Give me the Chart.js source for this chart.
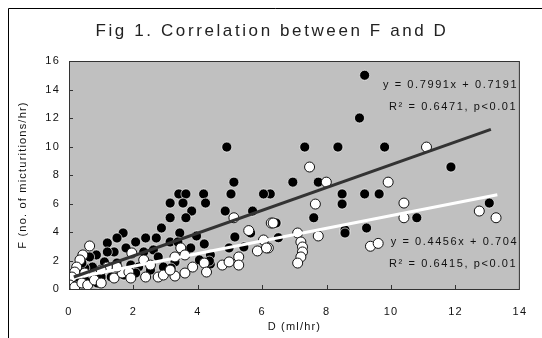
<!DOCTYPE html>
<html>
<head>
<meta charset="utf-8">
<script src="https://cdn.jsdelivr.net/npm/chart.js@4.4.1/dist/chart.umd.min.js"></script>
<style>
  html, body { margin: 0; padding: 0; background: #fff; }
  #wrap { width: 542px; height: 338px; }
</style>
</head>
<body>
<div id="wrap"><canvas id="chart" width="542" height="338"></canvas></div>
<script>
// [D, F]
const filledPts = [
  [9.18, 15.0], [9.02, 12.0], [7.32, 9.96], [8.35, 9.96], [9.8, 9.96], [11.86, 8.56],
  [6.95, 7.5], [7.74, 7.5], [6.25, 6.67], [8.48, 6.67], [8.48, 5.96], [9.18, 6.67],
  [9.63, 6.67], [6.43, 4.63], [7.6, 5.0], [6.5, 3.6], [8.57, 4.14], [8.57, 3.93],
  [9.24, 4.28], [10.8, 5.0], [13.05, 6.03],
  [4.9, 9.96], [5.12, 7.5], [3.41, 6.67], [3.63, 6.67], [4.18, 6.67], [5.03, 6.67],
  [6.04, 6.67], [3.14, 6.03], [3.54, 6.03], [4.24, 6.03], [3.81, 5.47], [4.85, 5.47],
  [5.7, 5.47], [3.14, 5.0], [3.63, 5.0], [3.44, 3.93], [5.15, 3.65], [5.64, 3.93],
  [3.96, 3.72], [3.14, 3.3], [3.38, 3.3], [4.2, 3.16], [3.78, 2.88], [4.97, 2.88],
  [5.43, 2.95], [4.39, 2.39], [4.05, 2.04], [4.39, 1.75], [4.36, 1.96], [3.29, 1.9], [3.17, 1.47],
  [1.68, 3.93], [1.49, 3.58], [1.19, 3.23], [2.38, 3.58], [2.87, 4.28], [2.71, 3.58],
  [2.07, 3.3], [1.77, 2.88], [1.4, 2.6], [1.19, 2.6], [0.85, 2.39], [0.64, 2.25],
  [2.32, 2.6], [2.62, 2.74], [2.77, 2.25], [1.1, 1.9], [1.49, 1.82], [1.92, 1.68],
  [2.16, 1.54], [2.93, 1.54], [2.53, 1.33], [2.07, 1.12], [1.0, 0.84], [1.31, 0.84],
  [1.71, 0.98], [0.73, 1.54], [0.49, 1.47], [0.4, 1.82], [0.27, 0.84], [0.12, 0.28],
  [0.49, 0.63], [0.88, 0.42]
];

const openPts = [
  [7.47, 8.56], [7.99, 7.5], [9.91, 7.5], [11.1, 9.96], [7.65, 5.96], [6.28, 4.63],
  [7.1, 3.93], [7.2, 3.3], [7.25, 2.95], [7.25, 2.6], [7.2, 2.25], [7.1, 1.82],
  [7.74, 3.72], [6.19, 2.88], [9.36, 3.0], [9.6, 3.2], [10.4, 6.03], [10.4, 5.0],
  [12.74, 5.47], [13.26, 5.0],
  [5.12, 5.0], [6.34, 4.63], [6.04, 3.44], [5.58, 4.1], [5.85, 2.67], [6.13, 2.88],
  [3.47, 2.88], [3.29, 2.25], [3.6, 2.39], [3.84, 1.54], [3.6, 1.12], [3.29, 0.91],
  [4.2, 1.82], [4.27, 1.19], [4.76, 1.68], [4.97, 1.9], [5.27, 2.25], [5.27, 1.68],
  [0.64, 3.02], [0.43, 2.39], [0.34, 2.04], [0.24, 1.54], [0.18, 1.19], [0.09, 0.84],
  [0.03, 0.28], [0.18, 0.14], [0.4, 0.42], [0.58, 0.28], [0.79, 0.63], [1.0, 0.42],
  [1.4, 0.77], [1.65, 1.12], [1.86, 1.19], [1.49, 1.54], [1.19, 1.54], [1.95, 2.53],
  [2.32, 2.04], [2.53, 1.68], [2.77, 0.84], [2.38, 0.84], [2.93, 0.98], [3.14, 1.33],
  [1.92, 0.77], [1.0, 1.33], [0.49, 1.12]
];

// trendline end points as seen in the figure
const filledTrend = [[0.15, 0.84], [13.1, 11.2]];
const openTrend = [[0.1, 0.75], [13.3, 6.62]];

const xTicks = [0, 2, 4, 6, 8, 10, 12, 14];
const yTicks = [0, 2, 4, 6, 8, 10, 12, 14, 16];

const filledLabel = ["y = 0.7991x + 0.7191", "R\u00B2 = 0.6471, p<0.01"];
const openLabel = ["y = 0.4456x + 0.704", "R\u00B2 = 0.6415, p<0.01"];

const toXY = (arr) => arr.map((p) => ({ x: p[0], y: p[1] }));
const FONT = "'Liberation Sans', Arial, sans-serif";

// grey plot area, frame, inward ticks, title and equations
const decor = {
  id: "decor",
  beforeDraw(chart) {
    const { ctx, chartArea: a } = chart;
    ctx.save();
    ctx.fillStyle = "#c0c0c0";
    ctx.fillRect(a.left, a.top, a.right - a.left, a.bottom - a.top);
    // outer frame (left + top visible)
    ctx.strokeStyle = "#000";
    ctx.lineWidth = 1;
    ctx.beginPath();
    ctx.moveTo(8.5, 345);
    ctx.lineTo(8.5, 8.5);
    ctx.lineTo(545, 8.5);
    ctx.stroke();
    // title
    ctx.fillStyle = "#222";
    ctx.font = "17px " + FONT;
    ctx.letterSpacing = "2.6px";
    ctx.textAlign = "center";
    ctx.textBaseline = "middle";
    ctx.fillText("Fig 1. Correlation between F and D", 272, 31);
    ctx.restore();
    // wide spacing for axis text, like the original
    ctx.letterSpacing = "1.2px";
  },
  afterDatasetsDraw(chart) {
    const { ctx, chartArea: a, scales } = chart;
    ctx.save();
    ctx.strokeStyle = "#333";
    ctx.lineWidth = 1;
    ctx.strokeRect(a.left + 0.5, a.top + 0.5, a.right - a.left - 1, a.bottom - a.top);
    ctx.beginPath();
    xTicks.slice(1, -1).forEach((v) => {
      const px = Math.round(scales.x.getPixelForValue(v)) + 0.5;
      ctx.moveTo(px, a.bottom);
      ctx.lineTo(px, a.bottom - 4);
    });
    yTicks.slice(1, -1).forEach((v) => {
      const py = Math.round(scales.y.getPixelForValue(v)) + 0.5;
      ctx.moveTo(a.left, py);
      ctx.lineTo(a.left + 4, py);
    });
    ctx.stroke();

    ctx.fillStyle = "#111";
    ctx.font = "11px " + FONT;
    ctx.letterSpacing = "1.6px";
    ctx.textAlign = "right";
    ctx.textBaseline = "middle";
    const rx = scales.x.getPixelForValue(13.95);
    ctx.fillText(filledLabel[0], rx, scales.y.getPixelForValue(14.35));
    ctx.fillText(filledLabel[1], rx - 1, scales.y.getPixelForValue(12.8));
    ctx.fillText(openLabel[0], rx, scales.y.getPixelForValue(3.31));
    ctx.fillText(openLabel[1], rx - 1, scales.y.getPixelForValue(1.77));
    ctx.restore();
  },
};

new Chart(document.getElementById("chart"), {
  type: "scatter",
  data: {
    datasets: [
      {
        label: "trend filled",
        data: toXY(filledTrend),
        showLine: true,
        borderColor: "#333",
        borderWidth: 3,
        pointRadius: 0,
      },
      {
        label: "trend open",
        data: toXY(openTrend),
        showLine: true,
        borderColor: "#fff",
        borderWidth: 3,
        pointRadius: 0,
      },
      {
        label: "open",
        data: toXY(openPts),
        backgroundColor: "#fff",
        borderColor: "#111",
        borderWidth: 1,
        pointRadius: 5,
      },
      {
        label: "filled",
        data: toXY(filledPts),
        backgroundColor: "#000",
        borderColor: "rgba(255,255,255,0.65)",
        borderWidth: 1,
        pointRadius: 5,
      },
    ],
  },
  options: {
    responsive: false,
    animation: false,
    layout: { padding: { left: 10, top: 61, right: 13, bottom: 0 } },
    plugins: {
      legend: { display: false },
      tooltip: { enabled: false },
    },
    scales: {
      x: {
        type: "linear",
        min: 0,
        max: 14,
        afterBuildTicks: (s) => { s.ticks = xTicks.map((v) => ({ value: v })); },
        afterFit: (s) => { s.height = 49; },
        grid: { display: false, drawTicks: false },
        border: { display: false },
        ticks: { padding: 16, color: "#111", font: { family: FONT, size: 11 } },
        title: {
          display: true,
          text: "D (ml/hr)",
          color: "#111",
          font: { family: FONT, size: 11 },
          padding: { top: 0, bottom: 4 },
        },
      },
      y: {
        type: "linear",
        min: 0,
        max: 16,
        afterBuildTicks: (s) => { s.ticks = yTicks.map((v) => ({ value: v })); },
        afterFit: (s) => { s.width = 59; },
        grid: { display: false, drawTicks: false },
        border: { display: false },
        ticks: { padding: 9, color: "#111", font: { family: FONT, size: 11 } },
        title: {
          display: true,
          text: "F (no. of micturitions/hr)",
          color: "#111",
          font: { family: FONT, size: 11 },
          padding: { top: 6, bottom: 0 },
        },
      },
    },
  },
  plugins: [decor],
});
</script>
</body>
</html>
